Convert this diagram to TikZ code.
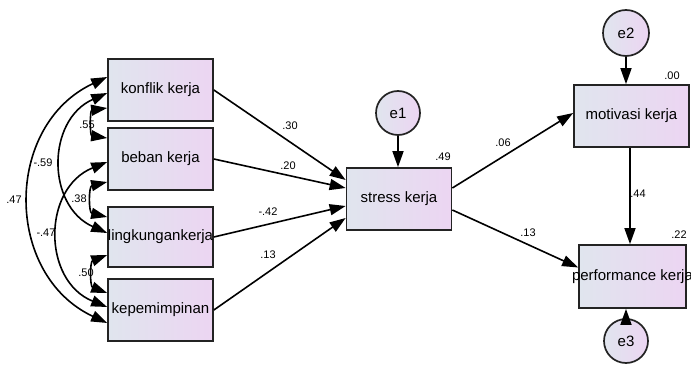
\documentclass[tikz,border=0pt]{standalone}
\usepackage{fontspec}
\setmainfont{Liberation Sans}
\usetikzlibrary{arrows.meta,calc}
\definecolor{boxL}{RGB}{224,229,238}
\definecolor{boxR}{RGB}{236,213,242}
\definecolor{edge}{RGB}{35,35,35}
\begin{document}
\begin{tikzpicture}[x=1pt,y=-1pt,
  var/.style={rectangle,draw=edge,line width=1.7pt,left color=boxL,right color=boxR,
    inner sep=0pt,minimum width=105pt,minimum height=62pt,font=\fontsize{15}{17}\selectfont},
  err/.style={circle,draw=edge,line width=1.7pt,left color=boxL,right color=boxR,
    inner sep=0pt,minimum size=45pt,font=\fontsize{15}{17}\selectfont},
  path/.style={line width=1.6pt,-{Triangle[length=16pt,width=11pt]}},
  cov/.style={line width=1.6pt,{Triangle[length=16pt,width=11pt]}-{Triangle[length=16pt,width=11pt]}},
  lbl/.style={font=\fontsize{11}{13}\selectfont,inner sep=0pt}]
\useasboundingbox[fill=white] (0,0) rectangle (691,390);

\node[var] (konf) at (160.5,90) {\makebox[0pt]{konflik kerja}};
\node[var] (beban) at (160.5,159) {\makebox[0pt]{beban kerja}};
\node[var,minimum height=60pt] (ling) at (160.5,237) {\makebox[0pt]{lingkungankerja}};
\node[var] (kepem) at (160.5,310) {\makebox[0pt]{kepemimpinan}};
\node[var] (stress) at (399,199) {\makebox[0pt]{stress kerja}};
\node[var,minimum width=115pt] (mot) at (631.5,116) {\makebox[0pt]{motivasi kerja}};
\node[var,minimum width=107pt,minimum height=63pt] (perf) at (632.5,276.5) {\makebox[0pt]{performance kerja}};
\node[err,minimum size=44pt] (e1) at (398,113) {e1};
\node[err,minimum size=46pt] (e2) at (626,33) {e2};
\node[err,minimum size=44pt] (e3) at (626,341) {e3};

% regression paths
\draw[path] (konf.east) -- ($(stress.west)+(0,-19)$);
\draw[path] (beban.east) -- ($(stress.west)+(0,-11)$);
\draw[path] (ling.east) -- ($(stress.west)+(0,7)$);
\draw[path] (kepem.east) -- ($(stress.west)+(0,19)$);
\draw[path] ($(stress.east)+(0,-11)$) -- ($(mot.west)+(0,-3)$);
\draw[path] ($(stress.east)+(0,11)$) -- ($(perf.west)+(0,-9)$);
\draw[path] ($(mot.south)+(-1.5,0)$) -- ($(mot.south |- perf.north)+(-1.5,0)$);
\draw[path] (e1.south) -- (e1.south |- stress.north);
\draw[path] (e2.south) -- (e2.south |- mot.north);
\draw[path] (e3.north) -- (e3.north |- perf.south);

% covariances
\draw[cov] ($(konf.west)+(0,-13)$) to[bend right=65,looseness=1.19] ($(kepem.west)+(0,13)$);
\draw[cov] ($(konf.west)+(0,3)$) to[bend right=66,looseness=1.22] ($(ling.west)+(0,-4)$);
\draw[cov] ($(konf.west)+(0,18)$) to[bend right=82,looseness=1.49] ($(beban.west)+(0,-21)$);
\draw[cov] ($(beban.west)+(0,3)$) to[bend right=68,looseness=1.24] ($(kepem.west)+(0,-3)$);
\draw[cov] ($(beban.west)+(0,23)$) to[bend right=77,looseness=1.4] ($(ling.west)+(0,-20)$);
\draw[cov] ($(ling.west)+(0,18)$) to[bend right=69,looseness=1.25] ($(kepem.west)+(0,-17)$);

% labels
\node[lbl] (l1) at (290,126) {.30};
\node[lbl] (l2) at (288,166) {.20};
\node[lbl] (l3) at (268,212) {-.42};
\node[lbl] (l4) at (268,255) {.13};
\node[lbl] (l5) at (443,157) {.49};
\node[lbl] (l6) at (672,76) {.00};
\node[lbl] (l7) at (503,143) {.06};
\node[lbl] (l8) at (638,194) {.44};
\node[lbl] (l9) at (528,233) {.13};
\node[lbl] (l10) at (679,235) {.22};
\node[lbl] (c1) at (87,125) {.55};
\node[lbl] (c2) at (43,163) {-.59};
\node[lbl] (c3) at (14,200) {.47};
\node[lbl] (c4) at (79,199) {.38};
\node[lbl] (c5) at (46,233) {-.47};
\node[lbl] (c6) at (86,273) {.50};
\end{tikzpicture}
\end{document}
